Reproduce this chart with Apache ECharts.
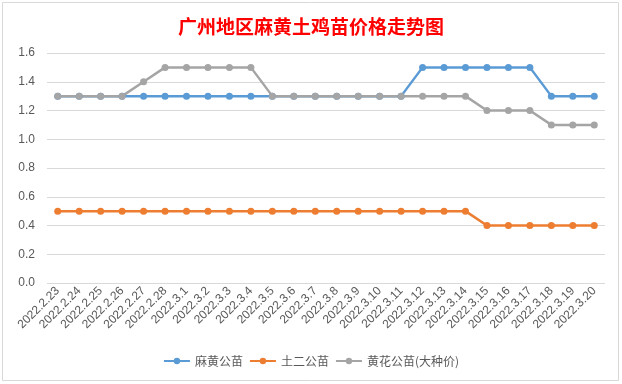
<!DOCTYPE html>
<html><head><meta charset="utf-8">
<script src="https://cdn.jsdelivr.net/npm/echarts@6/dist/echarts.min.js"></script>
<style>html,body{margin:0;padding:0;background:#fff}#c{width:622px;height:384px}</style>
</head><body><div id="c"></div>
<script>
const categories = ['2022.2.23','2022.2.24','2022.2.25','2022.2.26','2022.2.27','2022.2.28','2022.3.1','2022.3.2','2022.3.3','2022.3.4','2022.3.5','2022.3.6','2022.3.7','2022.3.8','2022.3.9','2022.3.10','2022.3.11','2022.3.12','2022.3.13','2022.3.14','2022.3.15','2022.3.16','2022.3.17','2022.3.18','2022.3.19','2022.3.20'];
const mahuang = [1.3,1.3,1.3,1.3,1.3,1.3,1.3,1.3,1.3,1.3,1.3,1.3,1.3,1.3,1.3,1.3,1.3,1.5,1.5,1.5,1.5,1.5,1.5,1.3,1.3,1.3];
const tuer = [0.5,0.5,0.5,0.5,0.5,0.5,0.5,0.5,0.5,0.5,0.5,0.5,0.5,0.5,0.5,0.5,0.5,0.5,0.5,0.5,0.4,0.4,0.4,0.4,0.4,0.4];
const huanghua = [1.3,1.3,1.3,1.3,1.4,1.5,1.5,1.5,1.5,1.5,1.3,1.3,1.3,1.3,1.3,1.3,1.3,1.3,1.3,1.3,1.2,1.2,1.2,1.1,1.1,1.1];
const seriesNames = ['麻黄公苗','土二公苗','黄花公苗(大种价)'];
const colors = ['#5b9bd5','#ed7d31','#a5a5a5'];
const title = '广州地区麻黄土鸡苗价格走势图';

const chart = echarts.init(document.getElementById('c'), null, {renderer:'canvas'});
const mk = (name, data, color) => ({
  name, type:'line', data, color,
  symbol:'circle', symbolSize:7,
  lineStyle:{width:2.5, color},
  itemStyle:{color},
  animation:false
});
chart.setOption({
  animation:false,
  title:{text:title, left:'center', top:12,
    textStyle:{color:'#ff0000', fontSize:19, fontWeight:'bold', fontFamily:'Noto Sans CJK SC'}},
  graphic:[{type:'rect', shape:{x:2.5,y:2.5,width:616,height:378}, style:{fill:null, stroke:'#d9d9d9', lineWidth:1}, z:-1}],
  legend:{bottom:12, left:'center', itemWidth:26, itemHeight:8, itemGap:6,
    textStyle:{color:'#595959', fontSize:12, fontFamily:'Noto Sans CJK SC'},
    data:seriesNames},
  grid:{left:47, right:17, top:53, bottom:101},
  xAxis:{type:'category', data:categories, boundaryGap:true,
    axisLine:{show:false}, axisTick:{show:false},
    axisLabel:{rotate:45, interval:0, color:'#595959', fontSize:12, margin:6, fontFamily:'Liberation Sans'}},
  yAxis:{type:'value', min:0, max:1.6, interval:0.2,
    axisLine:{show:false}, axisTick:{show:false},
    splitLine:{lineStyle:{color:'#d9d9d9', width:1}},
    axisLabel:{color:'#595959', fontSize:12, margin:12, formatter:v=>v.toFixed(1), fontFamily:'Liberation Sans'}},
  series:[mk(seriesNames[0], mahuang, colors[0]), mk(seriesNames[1], tuer, colors[1]), mk(seriesNames[2], huanghua, colors[2])]
});
</script></body></html>
